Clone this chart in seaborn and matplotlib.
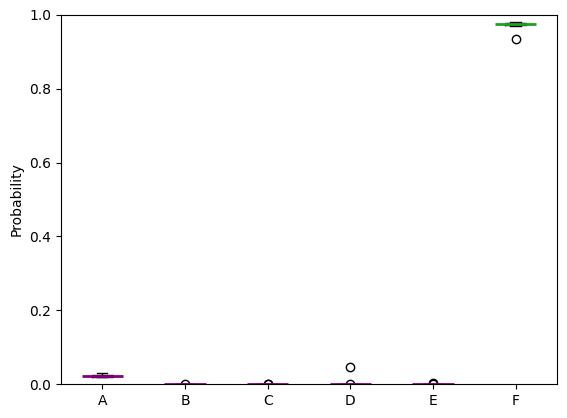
import numpy as np
import pandas as pd
import seaborn as sns
import matplotlib
matplotlib.use("Agg")
import matplotlib.pyplot as plt

# per-run probabilities for each class (10 runs)
labels = ["A", "B", "C", "D", "E", "F"]
prob_a = [0.022, 0.025, 0.019, 0.023, 0.021, 0.026, 0.018, 0.024, 0.029, 0.020]
prob_b = [0.00001, 0.00002, 0.00001, 0.00001, 0.00002, 0.00001, 0.0012, 0.00001, 0.00002, 0.00001]
prob_c = [0.00002, 0.00001, 0.00001, 0.0010, 0.00001, 0.00002, 0.0008, 0.00001, 0.00001, 0.00002]
prob_d = [0.00002, 0.00001, 0.00003, 0.00002, 0.00001, 0.00002, 0.047, 0.00001, 0.0011, 0.00002]
prob_e = [0.00001, 0.00002, 0.00001, 0.00001, 0.0018, 0.00001, 0.0012, 0.00001, 0.00002, 0.00001]
prob_f = [0.978, 0.975, 0.981, 0.976, 0.977, 0.974, 0.935, 0.976, 0.970, 0.979]

df = pd.DataFrame({"A": prob_a, "B": prob_b, "C": prob_c,
                   "D": prob_d, "E": prob_e, "F": prob_f})
long_df = df.melt(var_name="class", value_name="Probability")

median_colors = {"A": "purple", "B": "purple", "C": "purple",
                 "D": "purple", "E": "purple", "F": "#20a020"}

fig, ax = plt.subplots(figsize=(5.67, 4.18), dpi=100)
fig.subplots_adjust(left=61 / 567, right=557 / 567, top=1 - 15 / 418, bottom=1 - 384 / 418)

flier = dict(marker="o", markersize=6, markerfacecolor="none",
             markeredgecolor="black", markeredgewidth=1)

for cls in labels:
    sns.boxplot(data=long_df[long_df["class"] == cls], x="class", y="Probability",
                order=labels, fill=False, color="black", width=0.25, linewidth=1,
                whis=1.5, flierprops=flier,
                medianprops=dict(color=median_colors[cls], linewidth=2),
                ax=ax)

# widen the median bars to twice the box width
for cont in ax.containers:
    for med in cont.medians:
        xs = med.get_xdata()
        mid = (xs[0] + xs[-1]) / 2
        med.set_xdata([mid - 0.25, mid + 0.25])
        med.set_zorder(3)

ax.set_ylim(0, 1)
ax.set_xlim(-0.5, 5.5)
ax.set_xlabel("")
ax.set_ylabel("Probability")

plt.savefig("out.png", dpi=100)
